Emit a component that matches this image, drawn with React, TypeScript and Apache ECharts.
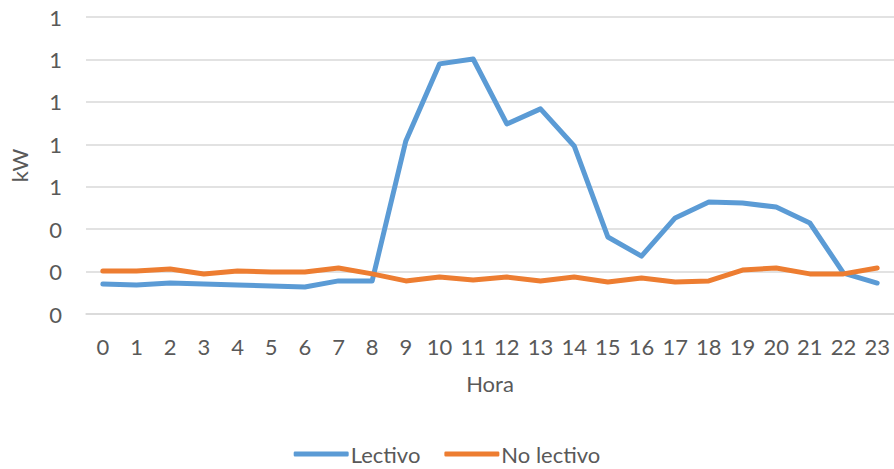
import React, { useEffect, useRef } from "react";
import * as echarts from "echarts";

const hours = ["0","1","2","3","4","5","6","7","8","9","10","11","12","13","14","15","16","17","18","19","20","21","22","23"];
const lectivo = [0.141,0.137,0.146,0.141,0.137,0.132,0.127,0.156,0.156,0.816,1.179,1.202,0.896,0.967,0.792,0.363,0.273,0.453,0.528,0.523,0.504,0.429,0.193,0.146];
const noLectivo = [0.203,0.203,0.212,0.189,0.203,0.198,0.198,0.217,0.189,0.156,0.174,0.160,0.174,0.156,0.174,0.151,0.170,0.151,0.156,0.207,0.217,0.189,0.189,0.217];
const yMin = 0;
const yMax = 1.4;
const yStep = 0.2;

const FONT = "Lato, 'Open Sans', sans-serif";
const TEXT = "#595959";
const FS = 22;

export default function App() {
  const ref = useRef<HTMLDivElement>(null);
  useEffect(() => {
    if (!ref.current) return;
    const chart = echarts.init(ref.current, null, { renderer: "svg" });
    chart.setOption({
      animation: false,
      textStyle: { fontFamily: FONT },
      grid: { left: 78, right: -4, top: 17, bottom: 155, containLabel: false },
      legend: {
        bottom: -1,
        left: "center",
        icon: "roundRect",
        itemWidth: 55,
        itemHeight: 5,
        itemGap: 24,
        textStyle: { fontFamily: FONT, fontSize: FS, color: TEXT, padding: [0, 0, 0, -3] },
        data: ["Lectivo", "No lectivo"],
      },
      xAxis: {
        type: "category",
        data: hours,
        boundaryGap: true,
        name: "Hora",
        nameLocation: "middle",
        nameGap: 58,
        nameTextStyle: { fontFamily: FONT, fontSize: FS, color: TEXT },
        axisLine: { show: true, lineStyle: { color: "#d9d9d9", width: 1.5 } },
        axisTick: { show: false },
        axisLabel: { fontFamily: FONT, fontSize: FS, color: TEXT, margin: 21 },
      },
      yAxis: {
        type: "value",
        min: yMin,
        max: yMax,
        interval: yStep,
        name: "kW",
        nameLocation: "middle",
        nameGap: 56,
        nameTextStyle: { fontFamily: FONT, fontSize: FS, color: TEXT },
        axisLine: { show: false },
        axisTick: { show: false },
        axisLabel: {
          fontFamily: FONT,
          fontSize: FS,
          color: TEXT,
          margin: 24,
          formatter: (v: number) => v.toFixed(0),
        },
        splitLine: { lineStyle: { color: "#d9d9d9", width: 1.5 } },
      },
      series: [
        {
          name: "Lectivo",
          type: "line",
          data: lectivo,
          symbol: "none",
          lineStyle: { color: "#5b9bd5", width: 5, cap: "round", join: "round" },
          itemStyle: { color: "#5b9bd5" },
        },
        {
          name: "No lectivo",
          type: "line",
          data: noLectivo,
          symbol: "none",
          lineStyle: { color: "#ed7d31", width: 5, cap: "round", join: "round" },
          itemStyle: { color: "#ed7d31" },
        },
      ],
    });
    return () => chart.dispose();
  }, []);
  return <div ref={ref} style={{ width: 894, height: 469, position: "absolute", left: 0, top: 0 }} />;
}
